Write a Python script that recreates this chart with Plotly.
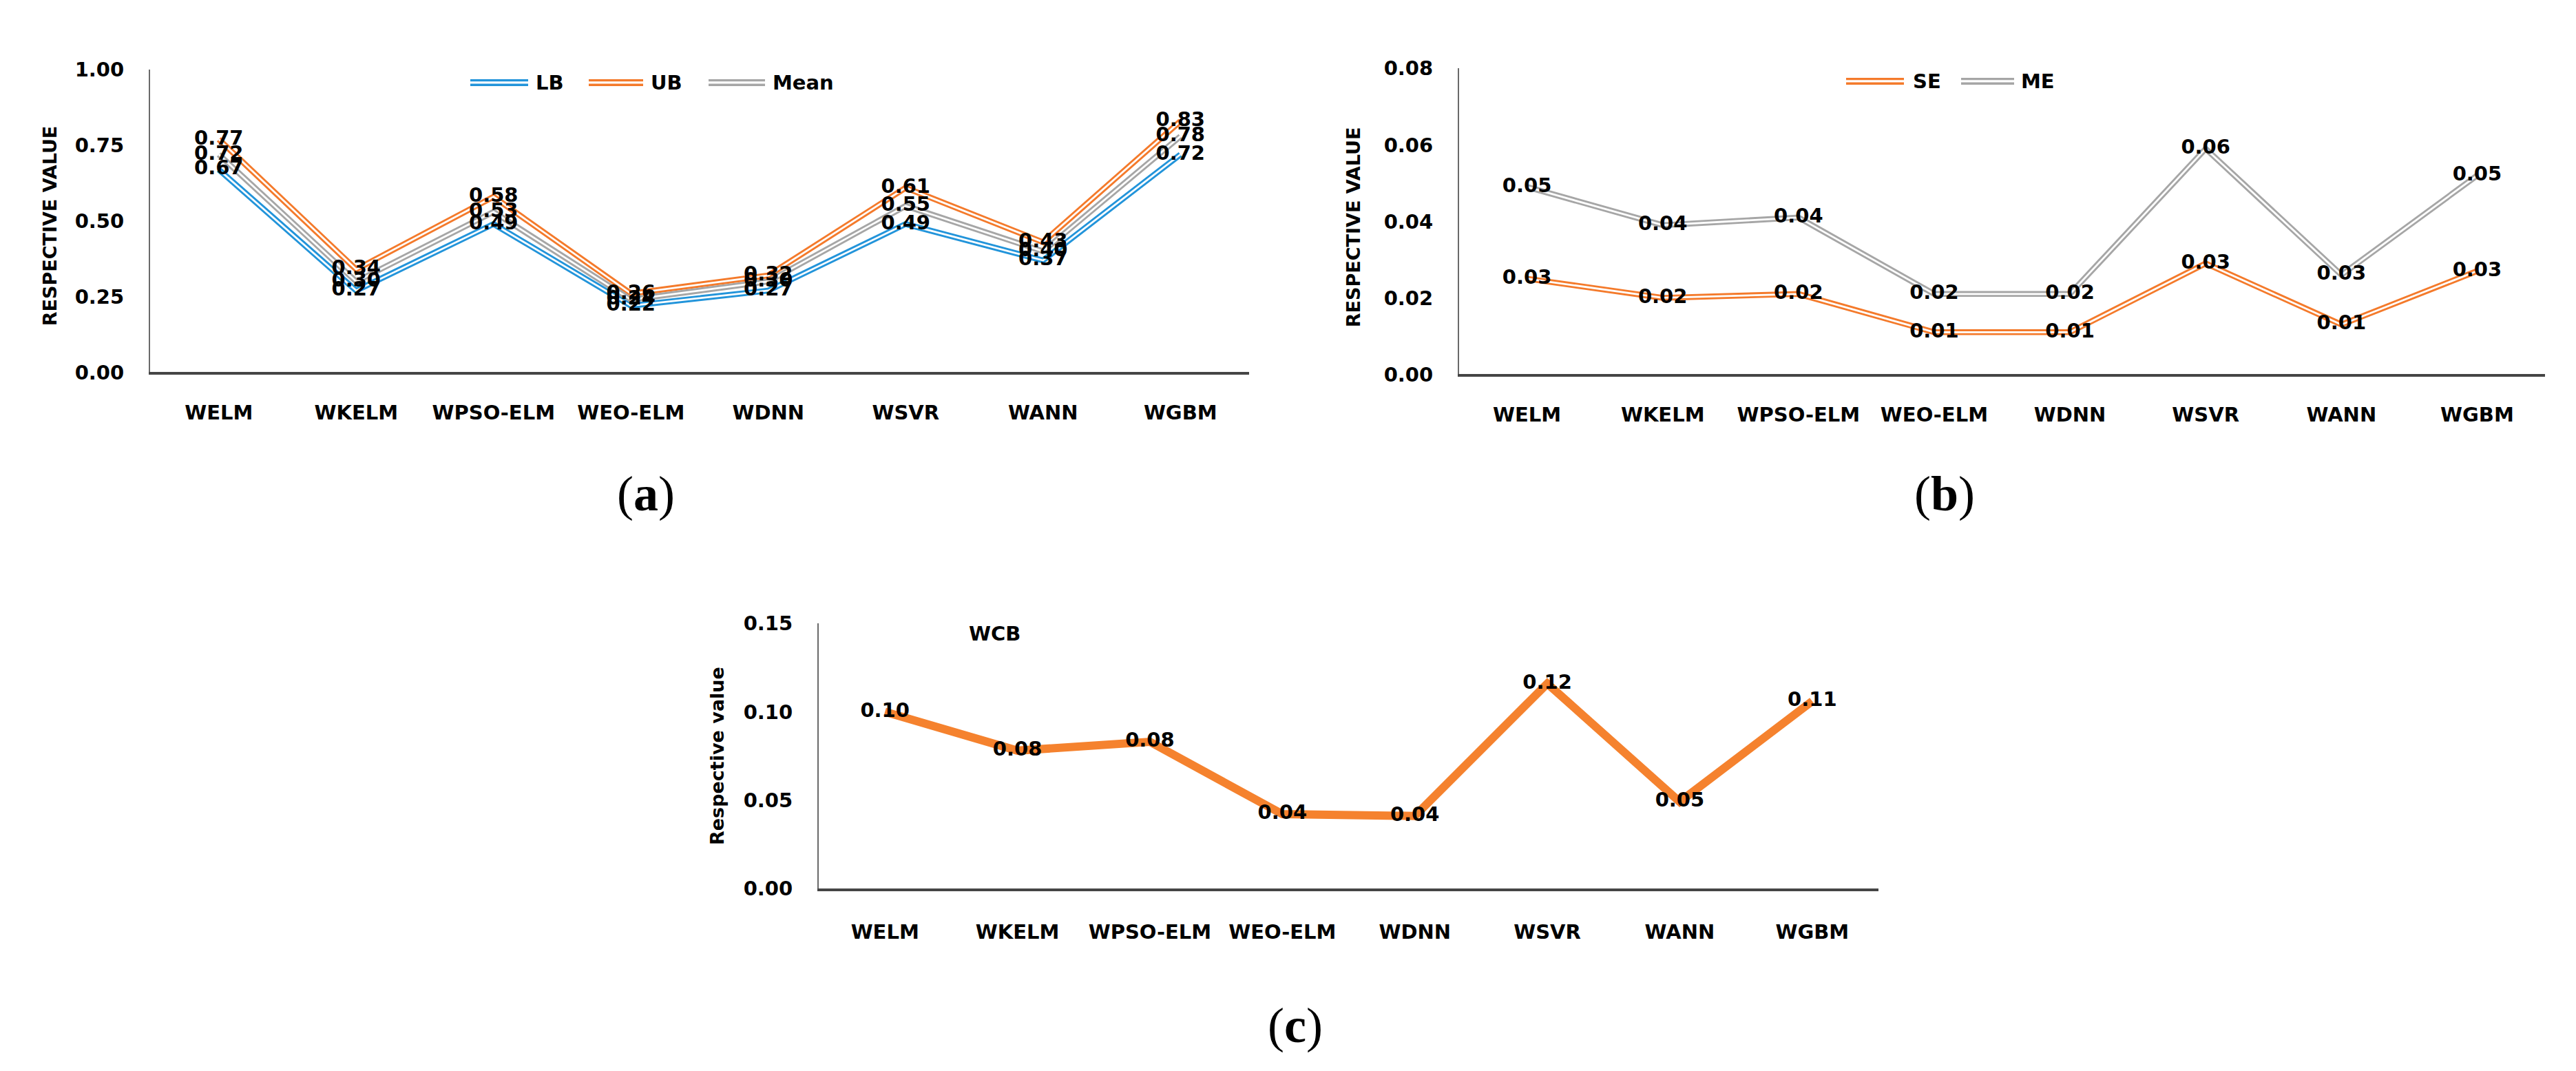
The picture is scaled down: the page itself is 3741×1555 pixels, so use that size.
import plotly.graph_objects as go

W, H = 3741, 1555

# ---------------- data ----------------
categories = ["WELM", "WKELM", "WPSO-ELM", "WEO-ELM", "WDNN", "WSVR", "WANN", "WGBM"]

lb_values = [0.67, 0.27, 0.49, 0.22, 0.27, 0.49, 0.37, 0.72]
ub_values = [0.77, 0.34, 0.58, 0.26, 0.32, 0.61, 0.43, 0.83]
mean_values = [0.72, 0.30, 0.53, 0.24, 0.30, 0.55, 0.40, 0.78]

se_values = [0.025, 0.020, 0.021, 0.011, 0.011, 0.029, 0.013, 0.027]
me_values = [0.049, 0.039, 0.041, 0.021, 0.021, 0.059, 0.026, 0.052]

wcb_values = [0.100, 0.078, 0.083, 0.042, 0.041, 0.116, 0.049, 0.106]

ticks_a = [0.00, 0.25, 0.50, 0.75, 1.00]
ticks_b = [0.00, 0.02, 0.04, 0.06, 0.08]
ticks_c = [0.00, 0.05, 0.10, 0.15]

# ---------------- style ----------------
BLUE = "#2294DA"
ORANGE = "#F47A2B"
GRAY = "#A6A6A6"
ORANGE_C = "#F5822E"
FONT = "DejaVu Sans"
TXT = dict(family=FONT, size=29, color="black", weight="bold")


def xd(a, b):
    return [a / W, b / W]


def yd(top, bottom):
    return [1 - bottom / H, 1 - top / H]


def px(x):
    return x / W


def py(y):
    return 1 - y / H


fig = go.Figure()


def double_line(xa, ya, y, color, name):
    fig.add_trace(go.Scatter(x=categories, y=y, mode="lines", name=name,
                             line=dict(color=color, width=8.5),
                             xaxis=xa, yaxis=ya, showlegend=False, hoverinfo="skip"))
    fig.add_trace(go.Scatter(x=categories, y=y, mode="lines",
                             line=dict(color="white", width=2.8),
                             xaxis=xa, yaxis=ya, showlegend=False, hoverinfo="skip"))


def labels(xa, ya, y):
    fig.add_trace(go.Scatter(x=categories, y=y, mode="text",
                             text=[f"{v:.2f}" for v in y],
                             textposition="middle center",
                             textfont=TXT, cliponaxis=False,
                             xaxis=xa, yaxis=ya, showlegend=False, hoverinfo="skip"))


# panel (a)
double_line("x", "y", lb_values, BLUE, "LB")
double_line("x", "y", ub_values, ORANGE, "UB")
double_line("x", "y", mean_values, GRAY, "Mean")
labels("x", "y", lb_values)
labels("x", "y", ub_values)
labels("x", "y", mean_values)

# panel (b)
double_line("x2", "y2", se_values, ORANGE, "SE")
double_line("x2", "y2", me_values, GRAY, "ME")
labels("x2", "y2", se_values)
labels("x2", "y2", me_values)

# panel (c): shadow on hidden offset subplot (x3,y3), main on (x4,y4)
fig.add_trace(go.Scatter(x=categories, y=wcb_values, mode="lines",
                         line=dict(color="rgba(0,0,0,0.08)", width=22),
                         xaxis="x3", yaxis="y3", showlegend=False, hoverinfo="skip"))
fig.add_trace(go.Scatter(x=categories, y=wcb_values, mode="lines",
                         line=dict(color="rgba(0,0,0,0.16)", width=13),
                         xaxis="x3", yaxis="y3", showlegend=False, hoverinfo="skip"))
fig.add_trace(go.Scatter(x=categories, y=wcb_values, mode="lines", name="WCB",
                         line=dict(color=ORANGE_C, width=12),
                         xaxis="x4", yaxis="y4", showlegend=False, hoverinfo="skip"))
labels("x4", "y4", wcb_values)

# ---------------- axes ----------------
cat_common = dict(type="category", categoryorder="array", categoryarray=categories,
                  range=[-0.5, 7.5], showgrid=False, zeroline=False,
                  showline=True, linecolor="#454545", linewidth=4,
                  ticks="outside", tickcolor="rgba(0,0,0,0)", tickfont=TXT)
val_common = dict(showgrid=False, zeroline=False, showline=True,
                  linecolor="#6a6a6a", linewidth=2, tickformat=".2f",
                  ticks="outside", tickcolor="rgba(0,0,0,0)", ticklen=30, tickfont=TXT)

A_X = (210, 1806); A_Y = (78, 527)
B_X = (2111, 3688); B_Y = (76, 530)
C_X = (1181, 2720); C_Y = (900, 1293)
SHX, SHY = 4, 6

fig.update_layout(
    xaxis=dict(domain=xd(*A_X), anchor="y", ticklen=30, **cat_common),
    yaxis=dict(domain=yd(*A_Y), anchor="x", range=[0, 1], tickvals=ticks_a, **val_common),
    xaxis2=dict(domain=xd(*B_X), anchor="y2", ticklen=30, **cat_common),
    yaxis2=dict(domain=yd(*B_Y), anchor="x2", range=[0, 0.08], tickvals=ticks_b, **val_common),
    xaxis3=dict(domain=xd(C_X[0] + SHX, C_X[1] + SHX), anchor="y3", type="category",
                categoryorder="array", categoryarray=categories, range=[-0.5, 7.5], visible=False),
    yaxis3=dict(domain=yd(C_Y[0] + SHY, C_Y[1] + SHY), anchor="x3", range=[0, 0.15], visible=False),
    xaxis4=dict(domain=xd(*C_X), anchor="y4", ticklen=34, **cat_common),
    yaxis4=dict(domain=yd(*C_Y), anchor="x4", range=[0, 0.15], tickvals=ticks_c, **val_common),
)

# ---------------- annotations: axis titles, panel labels, series tag ----------------
ann = []
title_font = dict(family=FONT, size=27, color="black", weight="bold")
ann.append(dict(text="RESPECTIVE VALUE", x=px(64), y=py(310), textangle=-90, font=title_font))
ann.append(dict(text="RESPECTIVE VALUE", x=px(1957), y=py(312), textangle=-90, font=title_font))
ann.append(dict(text="Respective value", x=px(1033), y=py(1097), textangle=-90, font=title_font))

panel_font = dict(family="Liberation Serif", size=72, color="black")
ann.append(dict(text="(<b>a</b>)", x=px(930), y=py(707), font=panel_font))
ann.append(dict(text="(<b>b</b>)", x=px(2816), y=py(707), font=panel_font))
ann.append(dict(text="(<b>c</b>)", x=px(1873), y=py(1497), font=panel_font))

ann.append(dict(text="WCB", x=px(1436), y=py(915), font=TXT))

# manual legends
shapes = []
legend_items = [
    ("LB", BLUE, 675, 759, 768, 97),
    ("UB", ORANGE, 847, 926, 935, 97),
    ("Mean", GRAY, 1021, 1103, 1112, 97),
    ("SE", ORANGE, 2673, 2757, 2768, 95),
    ("ME", GRAY, 2840, 2917, 2925, 95),
]
for name, col, x0, x1, xt, yy in legend_items:
    shapes.append(dict(type="line", xref="paper", yref="paper", x0=px(x0), x1=px(x1),
                       y0=py(yy), y1=py(yy), line=dict(color=col, width=10)))
    shapes.append(dict(type="line", xref="paper", yref="paper", x0=px(x0), x1=px(x1),
                       y0=py(yy), y1=py(yy), line=dict(color="white", width=3.4)))
    ann.append(dict(text=name, x=px(xt), y=py(yy), xanchor="left", font=TXT))

for a in ann:
    a.setdefault("xref", "paper")
    a.setdefault("yref", "paper")
    a.setdefault("showarrow", False)
    a.setdefault("xanchor", "center")
    a.setdefault("yanchor", "middle")

fig.update_layout(
    width=W, height=H,
    margin=dict(l=0, r=0, t=0, b=0),
    paper_bgcolor="white", plot_bgcolor="white",
    annotations=ann, shapes=shapes, showlegend=False,
)

fig.write_html("out.html")
